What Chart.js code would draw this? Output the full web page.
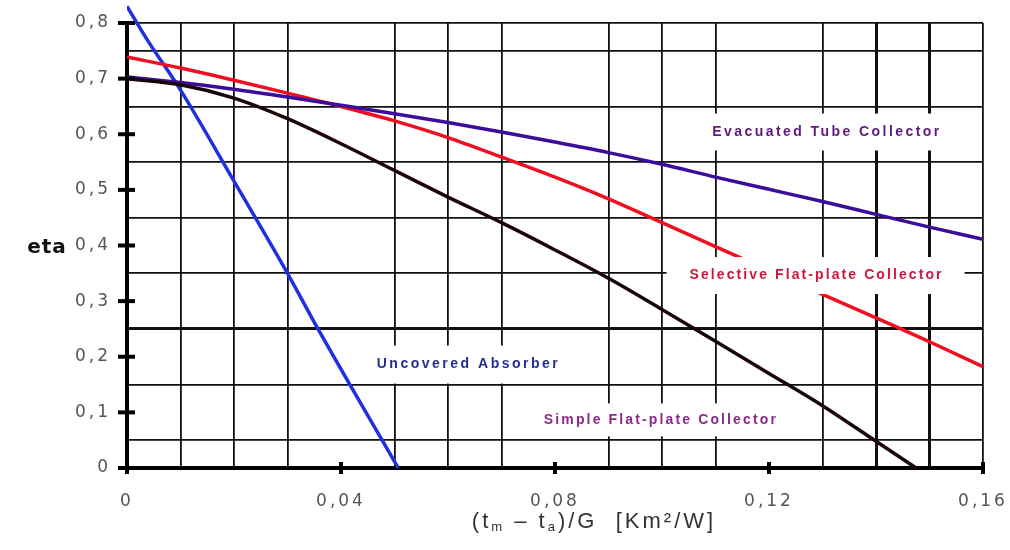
<!DOCTYPE html>
<html>
<head>
<meta charset="utf-8">
<script src="https://cdn.jsdelivr.net/npm/chart.js@4.4.1/dist/chart.umd.min.js"></script>
<style>
  html, body { margin: 0; padding: 0; background: #fff; }
  #wrap { width: 1010px; height: 550px; }
</style>
</head>
<body>
<div id="wrap"><canvas id="eta-chart"></canvas></div>
<script>
// x = (tm - ta)/G in Km2/W
const xSteps = [0, 0.01, 0.02, 0.03, 0.04, 0.05, 0.06, 0.07, 0.08, 0.09, 0.10, 0.11, 0.12, 0.13, 0.14, 0.15, 0.16];
const evacuatedTube = [0.703, 0.693, 0.681, 0.667, 0.652, 0.637, 0.621, 0.604, 0.586, 0.567, 0.546, 0.523, 0.501, 0.479, 0.456, 0.433, 0.411];
const selectiveFlat = [0.739, 0.719, 0.697, 0.674, 0.650, 0.624, 0.594, 0.559, 0.523, 0.484, 0.441, 0.398, 0.355, 0.312, 0.270, 0.227, 0.182];

const simpleFlatX = [0, 0.01, 0.02, 0.03, 0.04, 0.05, 0.06, 0.07, 0.08, 0.09, 0.10, 0.11, 0.12, 0.13, 0.14, 0.1475];
const simpleFlat = [0.700, 0.689, 0.665, 0.628, 0.583, 0.535, 0.487, 0.441, 0.392, 0.341, 0.285, 0.228, 0.170, 0.112, 0.048, 0];

const uncoveredX = [0, 0.0037, 0.0099, 0.0198, 0.030, 0.0357, 0.0507];
const uncovered = [0.830, 0.771, 0.681, 0.519, 0.350, 0.250, 0];

const xTicks = [0, 0.04, 0.08, 0.12, 0.16];
const yTicks = [0, 0.1, 0.2, 0.3, 0.4, 0.5, 0.6, 0.7, 0.8];

// curve names written inside the plot (white box behind each)
const curveLabels = [
  { text: "Evacuated Tube Collector", x: 0.1306, y: 0.604, color: "#5e1a7c", w: 227, box: [252, 37] },
  { text: "Selective Flat-plate Collector", x: 0.1287, y: 0.346, color: "#d0163c", w: 252, box: [298, 37] },
  { text: "Uncovered Absorber", x: 0.0636, y: 0.186, color: "#23308f", w: 181, box: [232, 38] },
  { text: "Simple Flat-plate Collector", x: 0.0996, y: 0.0865, color: "#8a2a8a", w: 232, box: [256, 33] },
];

function pts(xs, ys) {
  return xs.map((x, i) => ({ x: x, y: ys[i] }));
}

function onList(v, list) {
  return list.some((t) => Math.abs(t - v) < 1e-6);
}

function comma(v) {
  return String(Math.round(v * 100) / 100).replace(".", ",");
}

// tick labels in the scan are spread wide
const wideText = {
  id: "wideText",
  beforeDraw(chart) {
    chart.ctx.letterSpacing = "3px";
  },
};

const curveNames = {
  id: "curveNames",
  afterDatasetsDraw(chart) {
    const ctx = chart.ctx;
    const xs = chart.scales.x;
    const ys = chart.scales.y;
    ctx.save();
    curveLabels.forEach((l) => {
      const cx = xs.getPixelForValue(l.x);
      const cy = ys.getPixelForValue(l.y);
      ctx.fillStyle = "#fff";
      ctx.fillRect(cx - l.box[0] / 2, cy - l.box[1] / 2, l.box[0], l.box[1]);
      ctx.font = "bold 14px 'Liberation Sans', Arial, sans-serif";
      ctx.letterSpacing = "0px";
      const raw = ctx.measureText(l.text).width;
      const sp = (l.w - raw) / (l.text.length - 1);
      ctx.letterSpacing = sp + "px";
      ctx.fillStyle = l.color;
      ctx.textAlign = "left";
      ctx.textBaseline = "middle";
      ctx.fillText(l.text, cx - l.w / 2, cy);
    });
    ctx.restore();
  },
};

const axisDecor = {
  id: "axisDecor",
  afterDraw(chart) {
    const ctx = chart.ctx;
    const xs = chart.scales.x;
    const ys = chart.scales.y;
    ctx.save();
    ctx.fillStyle = "#000";
    // tick marks cross the axis lines
    yTicks.forEach((v) => {
      const py = ys.getPixelForValue(v);
      ctx.fillRect(xs.left - 9, py - 2, 17, 4);
    });
    xTicks.forEach((v) => {
      const px = xs.getPixelForValue(v);
      ctx.fillRect(px - 2, ys.bottom - 6, 4, 12);
    });

    ctx.fillStyle = "#111";
    ctx.font = "bold 20px 'DejaVu Sans', sans-serif";
    ctx.letterSpacing = "1px";
    ctx.textAlign = "center";
    ctx.textBaseline = "middle";
    ctx.fillText("eta", 47, 248);

    // x title with subscripts
    const parts = [
      ["(t", false], ["m", true], [" \u2013 t", false], ["a", true], [")/G  [Km\u00b2/W]", false],
    ];
    const big = "22px 'Liberation Sans', Arial, sans-serif";
    const small = "13px 'Liberation Sans', Arial, sans-serif";
    ctx.letterSpacing = "3px";
    let total = 0;
    parts.forEach((p) => {
      ctx.font = p[1] ? small : big;
      total += ctx.measureText(p[0]).width;
    });
    let x = 594 - total / 2;
    const y = 522;
    ctx.fillStyle = "#333";
    ctx.textAlign = "left";
    ctx.textBaseline = "middle";
    parts.forEach((p) => {
      ctx.font = p[1] ? small : big;
      ctx.fillText(p[0], x, p[1] ? y + 5 : y);
      x += ctx.measureText(p[0]).width;
    });
    ctx.restore();
  },
};

const gridColor = (list, edge) => (c) => {
  const v = c.tick ? c.tick.value : null;
  if (v === null) return "#111";
  if (Math.abs(v) < 1e-6) return "rgba(0,0,0,0)";
  if (onList(v, list) && Math.abs(v - edge) > 1e-6) return "rgba(0,0,0,0)";
  return "#111";
};

const line = (label, data, color, extra) =>
  Object.assign(
    {
      label: label,
      data: data,
      showLine: true,
      borderColor: color,
      backgroundColor: color,
      borderWidth: 3.5,
      pointRadius: 0,
      cubicInterpolationMode: "monotone",
      fill: false,
    },
    extra || {}
  );

new Chart(document.getElementById("eta-chart"), {
  type: "scatter",
  data: {
    datasets: [
      line("Simple Flat-plate Collector", pts(simpleFlatX, simpleFlat), "#1a0606", { clip: { left: 0, top: 0, right: 0, bottom: 8 } }),
      line("Evacuated Tube Collector", pts(xSteps, evacuatedTube), "#3c0c9a"),
      line("Selective Flat-plate Collector", pts(xSteps, selectiveFlat), "#ee1020"),
      line("Uncovered Absorber", pts(uncoveredX, uncovered), "#2030e0", { clip: { left: 0, top: 25, right: 0, bottom: 8 } }),
    ],
  },
  options: {
    responsive: true,
    maintainAspectRatio: false,
    animation: false,
    layout: { padding: { top: 23, right: 27, left: 0, bottom: 0 } },
    plugins: {
      legend: { display: false },
      tooltip: { enabled: false },
    },
    scales: {
      x: {
        type: "linear",
        min: 0,
        max: 0.16,
        afterFit: (s) => {
          s.height = 82;
          s.paddingLeft = 0;
          s.paddingRight = 0;
        },
        ticks: {
          stepSize: 0.01,
          autoSkip: false,
          maxRotation: 0,
          padding: 23,
          color: "#555",
          font: { family: "'DejaVu Sans', sans-serif", size: 17 },
          callback: (v) => (onList(v, xTicks) ? comma(v) : ""),
        },
        grid: {
          drawTicks: false,
          color: gridColor(xTicks, 0.16),
          lineWidth: (c) => (c.tick && (Math.abs(c.tick.value - 0.14) < 1e-6 || Math.abs(c.tick.value - 0.15) < 1e-6) ? 3 : 1.8),
        },
        border: { display: true, color: "#000", width: 4 },
      },
      y: {
        type: "linear",
        min: 0,
        max: 0.8,
        afterFit: (s) => {
          s.width = 127;
          s.paddingTop = 0;
          s.paddingBottom = 0;
        },
        ticks: {
          stepSize: 0.05,
          autoSkip: false,
          padding: 16,
          color: "#555",
          font: { family: "'DejaVu Sans', sans-serif", size: 17 },
          callback: (v) => (onList(v, yTicks) ? comma(v) : ""),
        },
        grid: {
          drawTicks: false,
          color: gridColor(yTicks, 0.8),
          lineWidth: (c) => (c.tick && Math.abs(c.tick.value - 0.25) < 1e-6 ? 3 : 1.8),
        },
        border: { display: true, color: "#000", width: 4 },
      },
    },
  },
  plugins: [wideText, curveNames, axisDecor],
});
</script>
</body>
</html>
